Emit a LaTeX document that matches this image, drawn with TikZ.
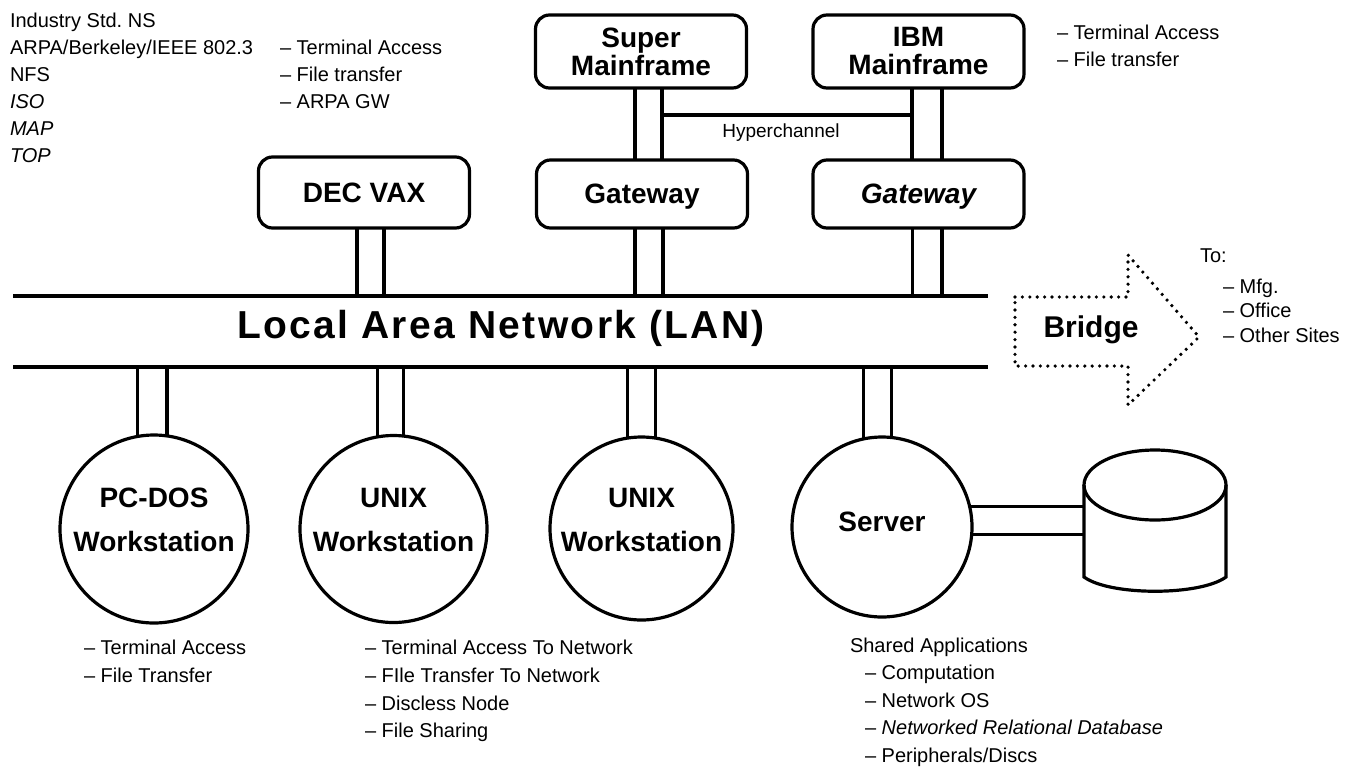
\documentclass[tikz,border=0pt]{standalone}
\usepackage{fontspec}
\setmainfont{Liberation Sans}
\frenchspacing
\begin{document}
\begin{tikzpicture}[x=1pt,y=-1pt,line width=3.2pt,
  every node/.style={inner sep=0pt,outer sep=0pt},
  hostbox/.style={draw,rounded corners=14pt,minimum width=211pt,align=center,
    font=\fontsize{28}{28}\selectfont\bfseries},
  ws/.style={draw,circle},
  wstext/.style={align=center,font=\fontsize{28}{44}\selectfont\bfseries},
  lbl/.style={anchor=base west,font=\fontsize{20}{24}\selectfont},
  dotline/.style={line width=3.6pt,dash pattern=on 0pt off 7.4pt,line cap=round,line join=round}]
\useasboundingbox (0,0) rectangle (1351,766);

% LAN
\node[minimum width=975pt,minimum height=71pt] (lan) at (500.5,331.5) {};
\draw (lan.north west) -- (lan.north east);
\draw (lan.south west) -- (lan.south east);
\node[font=\fontsize{39}{39}\selectfont\bfseries] (lantxt) at (501,328)
  {\addfontfeatures{LetterSpace=6}Local Area Network (LAN)};

% hosts on top
\node[hostbox,minimum height=71pt] (dec) at (364,192.5) {DEC VAX};
\node[hostbox,minimum height=73pt] (super) at (641,51.5) {Super\\Mainframe};
\node[hostbox,minimum height=68pt,text depth=0pt] (gwa) at (642,194) {Gateway};
\node[hostbox,minimum height=73pt] (ibm) at (918.5,51.5) {IBM\\Mainframe};
\node[hostbox,minimum height=68pt,text depth=0pt] (gwb) at (918.5,194) {\itshape Gateway};

\draw ([xshift=-7]dec.south) -- ([xshift=-7]dec.south |- lan.north);
\draw ([xshift=20]dec.south) -- ([xshift=20]dec.south |- lan.north);
\draw ([xshift=-6]super.south) -- ([xshift=-6]super.south |- gwa.north);
\draw ([xshift=21]super.south) -- ([xshift=21]super.south |- gwa.north);
\draw ([xshift=-7]gwa.south) -- ([xshift=-7]gwa.south |- lan.north);
\draw ([xshift=21]gwa.south) -- ([xshift=21]gwa.south |- lan.north);
\draw ([xshift=-6.5]ibm.south) -- ([xshift=-6.5]ibm.south |- gwb.north);
\draw ([xshift=23.5]ibm.south) -- ([xshift=23.5]ibm.south |- gwb.north);
\draw ([xshift=-6]gwb.south) -- ([xshift=-6]gwb.south |- lan.north);
\draw ([xshift=23.5]gwb.south) -- ([xshift=23.5]gwb.south |- lan.north);

\coordinate (hc) at (0,115);
\draw ([xshift=21]super.south |- hc) -- ([xshift=-6.5]ibm.south |- hc);
\node[anchor=base,font=\fontsize{19}{19}\selectfont] (hctxt) at (781,137) {Hyperchannel};

% workstations
\node[ws,minimum size=188pt] (pc) at (154,529) {};
\node[ws,minimum size=187pt] (ux1) at (393.5,529) {};
\node[ws,minimum size=183pt] (ux2) at (641.5,528.5) {};
\node[ws,minimum size=180pt] (srv) at (882,527) {};
\node[wstext] (pct) at (154,520) {PC-DOS\\Workstation};
\node[wstext] (ux1t) at (393.5,520) {UNIX\\Workstation};
\node[wstext] (ux2t) at (641.5,520) {UNIX\\Workstation};
\node[wstext] (srvt) at (882,522) {Server};

\draw (pc.100) -- (pc.100 |- lan.south);
\draw (pc.82) -- (pc.82 |- lan.south);
\draw (ux1.100) -- (ux1.100 |- lan.south);
\draw (ux1.84) -- (ux1.84 |- lan.south);
\draw (ux2.99) -- (ux2.99 |- lan.south);
\draw (ux2.81.5) -- (ux2.81.5 |- lan.south);
\draw (srv.102) -- (srv.102 |- lan.south);
\draw (srv.84) -- (srv.84 |- lan.south);

% disk
\node[minimum width=142pt,minimum height=142pt] (disk) at (1155,520) {};
\draw (srv.13) -- (srv.13 -| disk.west);
\draw (srv.-5) -- (srv.-5 -| disk.west);
\draw (1155,485) ellipse [x radius=71, y radius=35];
\draw (1084,485) -- (1084,577) .. controls (1110,596) and (1200,596) .. (1226,577) -- (1226,485);

% bridge
\draw[dotline] (1015,297) -- (1128,297) -- (1128,255) -- (1199,337) -- (1128,405) -- (1128,366) -- (1015,366) -- cycle;
\node[font=\fontsize{30}{30}\selectfont\bfseries] (bridge) at (1091,330) {Bridge};

% texts
\node[lbl] (t1) at (10,27) {Industry Std. NS};
\node[lbl] (t2) at (10,54) {ARPA/Berkeley/IEEE 802.3};
\node[lbl] (t3) at (10,81) {NFS};
\node[lbl] (t4) at (10,108) {\itshape ISO};
\node[lbl] (t5) at (10,135) {\itshape MAP};
\node[lbl] (t6) at (10,162) {\itshape TOP};
\node[lbl] (m1) at (280,54) {– Terminal Access};
\node[lbl] (m2) at (280,81) {– File transfer};
\node[lbl] (m3) at (280,108) {– ARPA GW};
\node[lbl] (r1) at (1057,39) {– Terminal Access};
\node[lbl] (r2) at (1057,66) {– File transfer};
\node[lbl] (to0) at (1200,262) {To:};
\node[lbl] (to1) at (1223,293) {– Mfg.};
\node[lbl] (to2) at (1223,317) {– Office};
\node[lbl] (to3) at (1223,342) {– Other Sites};
\node[lbl] (p1) at (84,654) {– Terminal Access};
\node[lbl] (p2) at (84,682) {– File Transfer};
\node[lbl] (u1) at (365,654) {– Terminal Access To Network};
\node[lbl] (u2) at (365,682) {– FIle Transfer To Network};
\node[lbl] (u3) at (365,710) {– Discless Node};
\node[lbl] (u4) at (365,737) {– File Sharing};
\node[lbl] (s0) at (850,652) {Shared Applications};
\node[lbl] (s1) at (865,679.5) {– Computation};
\node[lbl] (s2) at (865,707) {– Network OS};
\node[lbl] (s3) at (865,734.5) {– \itshape Networked Relational Database};
\node[lbl] (s4) at (865,762) {– Peripherals/Discs};
\end{tikzpicture}
\end{document}
